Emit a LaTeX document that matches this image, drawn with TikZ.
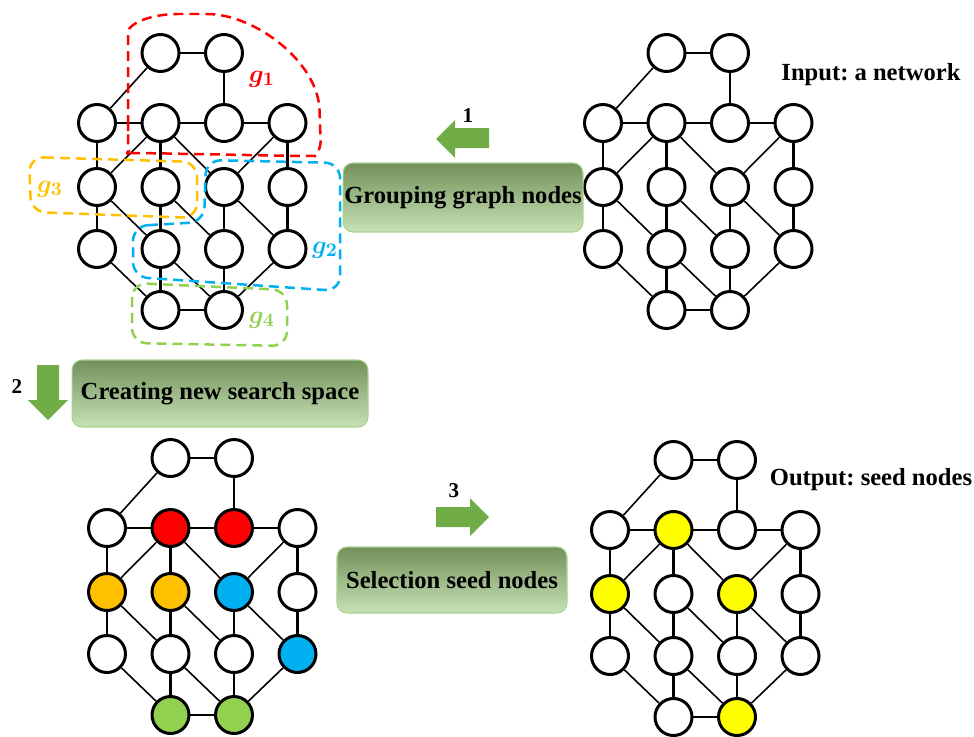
\documentclass[tikz,border=0pt]{standalone}
\usepackage{fontspec}
\setmainfont{Liberation Serif}
\usepackage{amsmath}
\usetikzlibrary{positioning}
\frenchspacing
\definecolor{groupred}{RGB}{255, 0, 0}
\definecolor{grouporange}{RGB}{255, 192, 0}
\definecolor{groupblue}{RGB}{0, 176, 240}
\definecolor{groupgreen}{RGB}{146, 208, 80}
\definecolor{seedyellow}{RGB}{255, 255, 0}
\definecolor{arrowgreen}{RGB}{112, 173, 71}
\definecolor{boxtop}{RGB}{114, 145, 90}
\definecolor{boxbottom}{RGB}{199, 226, 182}
\definecolor{boxedge}{RGB}{169, 209, 142}
\tikzset{paint/.style={tone #1/.try}}

% one network: 16 vertices and their links, names prefixed with #1
\newcommand{\netgraph}[1]{
  \foreach \n/\c/\r in {t1/1/0, t2/2/0, a1/0/70, a2/1/70, a3/2/70, a4/3/70,
      b1/0/134, b2/1/134, b3/2/134, b4/3/134, c1/0/196, c2/1/196, c3/2/196, c4/3/196,
      d1/1/257, d2/2/257}
    \node[vtx, paint/.expanded=\n] (#1\n) at (\c*63.5, \r) {};
  % straight links
  \foreach \a/\b in {t1/t2, t2/a3, a1/a2, a2/a3, a3/a4, a1/b1, a2/b2, a4/b4,
      b1/c1, b2/c2, b3/c3, b4/c4, c2/d1, c3/d2, d1/d2}
    \draw[link] (#1\a) -- (#1\b);
  % slanted links
  \foreach \a/\b in {t1/a1, a2/b1, a2/b3, a4/b3, b1/c2, b2/c3, b3/c4,
      c1/d1, c2/d2, c4/d2}
    \draw[link, line width=0.9pt] (#1\a) -- (#1\b);
}

\begin{document}
\begin{tikzpicture}[x=0.02cm, y=-0.02cm,
  vtx/.style={circle, draw, line width=1.7pt, fill=white, minimum size=0.74cm, inner sep=0pt},
  link/.style={line width=1.4pt},
  groupline/.style={dash pattern=on 0.2cm off 0.12cm, line width=0.05cm, rounded corners=0.3cm},
  grouplabel/.style={font=\fontsize{15}{17}\selectfont\boldmath},
  stepbox/.style={draw=boxedge, line width=0.6pt, rounded corners=0.2cm, top color=boxtop,
    bottom color=boxbottom, inner sep=0pt, font=\bfseries\fontsize{14}{16}\selectfont},
  steplabel/.style={font=\bfseries\fontsize{12}{14}\selectfont},
  titletext/.style={font=\bfseries\fontsize{14}{16}\selectfont}]
  \useasboundingbox (0,0) rectangle (974,737);

  % input network
  \begin{scope}[shift={(603,53)}]
    \netgraph{in-}
  \end{scope}
  \node[titletext] (innet) at (871,75) {Input: a network};

  % grouped network
  \begin{scope}[shift={(97,53)}]
    \netgraph{grp-}
  \end{scope}
  \draw[groupline, groupred] (128,140) -- (128,48) .. controls (128,22) and (155,14) .. (192,14)
    .. controls (255,14) and (318,62) .. (320,125) .. controls (321,150) and (315,156) .. (300,156)
    -- (140,153) .. controls (130,153) and (128,150) .. (128,140) -- cycle;
  \draw[groupline, grouporange] (29,157) -- (197,162) -- (197,218) -- (31,212) -- cycle;
  \draw[groupline, groupblue] (133,226) -- (204,222) -- (206,160) -- (340,163) -- (340,291)
    -- (133,277) -- cycle;
  \draw[groupline, groupgreen] (132,283) -- (287,290) -- (287,346) -- (132,343) -- cycle;
  \node[grouplabel, text=groupred] (lab1) at (262,79) {$g_1$};
  \node[grouplabel, text=groupblue] (lab2) at (325,250) {$g_2$};
  \node[grouplabel, text=grouporange] (lab3) at (50,189) {$g_3$};
  \node[grouplabel, text=groupgreen] (lab4) at (262,320) {$g_4$};

  % new search space
  \begin{scope}[shift={(107,458)},
      tone a2/.style={fill=groupred}, tone a3/.style={fill=groupred},
      tone b1/.style={fill=grouporange}, tone b2/.style={fill=grouporange},
      tone b3/.style={fill=groupblue}, tone c4/.style={fill=groupblue},
      tone d1/.style={fill=groupgreen}, tone d2/.style={fill=groupgreen}]
    \netgraph{sp-}
  \end{scope}

  % seed nodes
  \begin{scope}[shift={(610,460)},
      tone a2/.style={fill=seedyellow}, tone b1/.style={fill=seedyellow},
      tone b3/.style={fill=seedyellow}, tone d2/.style={fill=seedyellow}]
    \netgraph{out-}
  \end{scope}
  \node[titletext] (outseed) at (871,480) {Output: seed nodes};

  % steps
  \node[stepbox, minimum width=4.8cm, minimum height=1.38cm] (grouping) at (463,197.5) {Grouping graph nodes};
  \node[stepbox, minimum width=5.92cm, minimum height=1.34cm] (creating) at (220,393.5) {Creating new search space};
  \node[stepbox, minimum width=4.6cm, minimum height=1.32cm] (selection) at (452,580) {Selection seed nodes};

  \fill[arrowgreen] (489,128) -- (455,128) -- (455,120) -- (436,139) -- (455,158) -- (455,148) -- (489,148) -- cycle;
  \fill[arrowgreen] (37,365) -- (59,365) -- (59,400) -- (68,400) -- (48,420) -- (28,400) -- (37,400) -- cycle;
  \fill[arrowgreen] (436,507) -- (470,507) -- (470,498) -- (489,517) -- (470,536) -- (470,527) -- (436,527) -- cycle;
  \node[steplabel] (num1) at (468,116) {1};
  \node[steplabel] (num2) at (17,387) {2};
  \node[steplabel] (num3) at (454,491) {3};
\end{tikzpicture}
\end{document}
